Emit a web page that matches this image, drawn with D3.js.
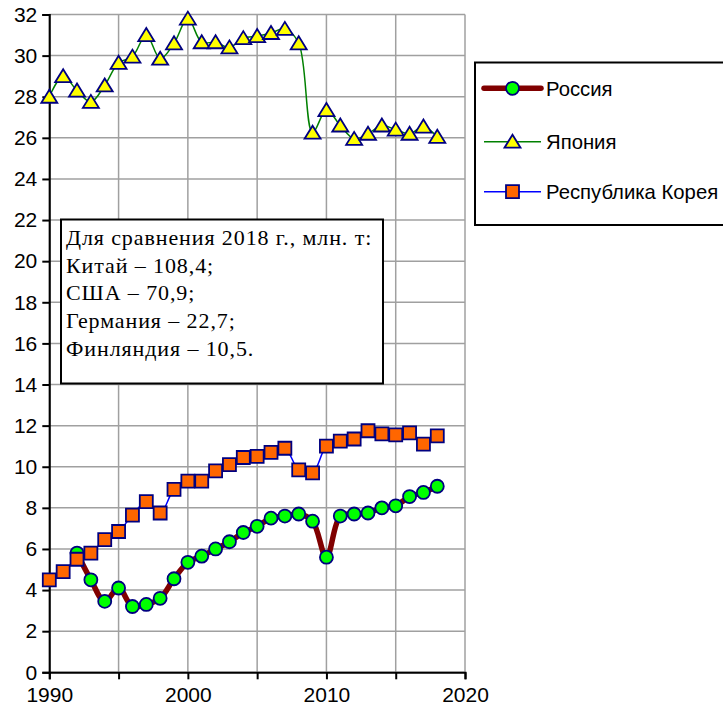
<!DOCTYPE html>
<meta charset="utf-8">
<head>
    <script src="https://d3js.org/d3.v7.min.js"></script>
    <style>
        body { margin: 0; background: #fff; }
        text { font-family: Arial, "Liberation Sans", sans-serif; }
    </style>
</head>
<body>
    <div id="chart"></div>
</body>
<script>

const width = 723;
const height = 711;

// values, mln t
const russiaYears = d3.range(1992, 2019);
const russia = [5.8, 4.5, 3.45, 4.1, 3.2, 3.3, 3.6, 4.55, 5.35, 5.65, 6.0, 6.35, 6.8,
                7.1, 7.5, 7.6, 7.7, 7.35, 5.6, 7.6, 7.7, 7.75, 8.0, 8.1, 8.55, 8.75, 9.05];

const japanYears = d3.range(1990, 2019);
const japan = [28.0, 29.0, 28.3, 27.75, 28.55, 29.65, 29.95, 31.0, 29.85, 30.6,
               31.8, 30.65, 30.65, 30.4, 30.85, 30.95, 31.1, 31.3, 30.6, 26.25,
               27.35, 26.6, 25.95, 26.2, 26.6, 26.4, 26.2, 26.55, 26.05];

const koreaYears = d3.range(1990, 2019);
const korea = [4.5, 4.9, 5.5, 5.8, 6.45, 6.85, 7.65, 8.3, 7.75, 8.9,
               9.3, 9.3, 9.8, 10.1, 10.45, 10.5, 10.7, 10.9, 9.85, 9.7,
               11.0, 11.25, 11.35, 11.75, 11.6, 11.55, 11.65, 11.1, 11.5];

const seriesNames = ["Россия", "Япония", "Республика Корея"];
const xTicks = [1990, 2000, 2010, 2020];
const xGrid = d3.range(1990, 2021, 5);
const yTicks = d3.range(0, 33, 2);

const noteLines = [
    "Для сравнения 2018 г., млн. т:",
    "Китай – 108,4;",
    "США – 70,9;",
    "Германия – 22,7;",
    "Финляндия – 10,5."
];

const x = d3.scaleLinear().domain([1990, 2020]).range([49.3, 465]);
const y = d3.scaleLinear().domain([0, 32]).range([672.3, 14.5]);

const svg = d3.select("#chart")
              .append("svg")
                .attr("width", width)
                .attr("height", height);

// grid
const grid = svg.append("g").attr("class", "grid");
grid.selectAll(".gy")
    .data(yTicks).enter()
    .append("line")
        .attr("x1", x(1990)).attr("x2", x(2020))
        .attr("y1", d => y(d)).attr("y2", d => y(d))
        .attr("stroke", "#a0a0a0").attr("stroke-width", 1.5);
grid.selectAll(".gx")
    .data(xGrid).enter()
    .append("line")
        .attr("x1", d => x(d)).attr("x2", d => x(d))
        .attr("y1", y(0)).attr("y2", y(32))
        .attr("stroke", "#a0a0a0").attr("stroke-width", 1.5);

// axes
const yAxis = svg.append("g")
    .attr("transform", `translate(${x(1990)},0)`)
    .call(d3.axisLeft(y).tickValues(yTicks).tickSize(7).tickPadding(5));
const xAxis = svg.append("g")
    .attr("transform", `translate(0,${y(0)})`)
    .call(d3.axisBottom(x).tickValues(xGrid).tickSize(7).tickPadding(8)
            .tickFormat(d => xTicks.includes(d) ? d : ""));

[yAxis, xAxis].forEach(a => {
    a.select(".domain").attr("stroke", "#000").attr("stroke-width", 2);
    a.selectAll(".tick line").attr("stroke", "#000").attr("stroke-width", 2);
    a.selectAll("text").attr("fill", "#000").style("font-size", "21px")
        .style("font-family", "Arial, 'Liberation Sans', sans-serif");
});

// note box
const note = svg.append("g");
note.append("rect")
    .attr("x", 61).attr("y", 219.5).attr("width", 322).attr("height", 164)
    .attr("fill", "#fff").attr("stroke", "#000").attr("stroke-width", 2);
note.selectAll("text")
    .data(noteLines).enter()
    .append("text")
        .attr("x", 66)
        .attr("y", (d, i) => 245 + i * 27.7)
        .style("font-family", "'Liberation Serif', 'Times New Roman', serif")
        .style("font-size", "22px")
        .style("letter-spacing", "0.9px")
        .attr("fill", "#000")
        .text(d => d);

// marker shapes
const circleSym = d3.symbol().type(d3.symbolCircle).size(Math.PI * 6.5 * 6.5);
function trianglePath() { return "M0,-7L8,6L-8,6Z"; }
function squarePath() { return "M-6.5,-6.5H6.5V6.5H-6.5Z"; }

const line = d3.line()
    .x(d => x(d[0]))
    .y(d => y(d[1]))
    .curve(d3.curveCatmullRom.alpha(0.5));

const series = [
    { name: seriesNames[0], data: d3.zip(russiaYears, russia), color: "#800000", width: 5.5,
      fill: "#00ff00", shape: () => circleSym() },
    { name: seriesNames[1], data: d3.zip(japanYears, japan), color: "#008000", width: 1.5,
      fill: "#ffff00", shape: trianglePath },
    { name: seriesNames[2], data: d3.zip(koreaYears, korea), color: "#0000ff", width: 1.5,
      fill: "#ff6600", shape: squarePath }
];

series.forEach(s => {
    const g = svg.append("g");
    g.append("path")
        .datum(s.data)
        .attr("d", line)
        .attr("fill", "none")
        .attr("stroke", s.color)
        .attr("stroke-width", s.width)
        .attr("stroke-linejoin", "round")
        .attr("stroke-linecap", "round");
    g.selectAll(".m")
        .data(s.data).enter()
        .append("path")
            .attr("transform", d => `translate(${x(d[0])},${y(d[1])})`)
            .attr("d", s.shape)
            .attr("fill", s.fill)
            .attr("stroke", "#000080")
            .attr("stroke-width", 1.8);
});

// legend
const legend = svg.append("g");
legend.append("rect")
    .attr("x", 475).attr("y", 62.5).attr("width", 260).attr("height", 162.5)
    .attr("fill", "#fff").attr("stroke", "#000").attr("stroke-width", 2);
const legRows = legend.selectAll(".row")
    .data(series).enter()
    .append("g")
        .attr("transform", (d, i) => `translate(0,${[88.3, 141.7, 191.7][i]})`);
legRows.append("line")
    .attr("x1", 484).attr("x2", 541)
    .attr("stroke", d => d.color)
    .attr("stroke-width", d => d.width)
    .attr("stroke-linecap", (d, i) => i === 0 ? "round" : "butt");
legRows.append("path")
    .attr("transform", "translate(512.5,0)")
    .attr("d", d => d.shape())
    .attr("fill", d => d.fill)
    .attr("stroke", "#000080")
    .attr("stroke-width", 1.8);
legRows.append("text")
    .attr("x", 546).attr("dy", "0.36em")
    .style("font-size", "20.3px")
    .attr("fill", "#000")
    .text(d => d.name);
</script>
